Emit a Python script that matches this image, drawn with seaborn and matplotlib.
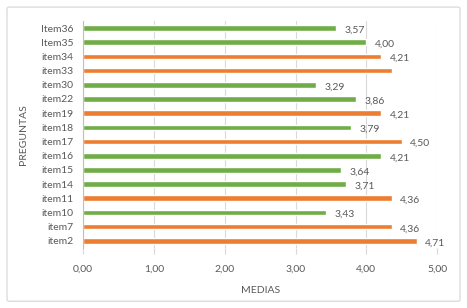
import matplotlib
matplotlib.use("Agg")
import matplotlib.pyplot as plt
import seaborn as sns
import pandas as pd
from matplotlib.patches import FancyBboxPatch

items = ["Item36", "Item35", "item34", "item33", "item30", "item22", "item19", "item18",
         "item17", "item16", "item15", "item14", "item11", "item10", "item7", "item2"]
values = [3.57, 4.00, 4.21, 4.36, 3.29, 3.86, 4.21, 3.79,
          4.50, 4.21, 3.64, 3.71, 4.36, 3.43, 4.36, 4.71]
groups = ["g", "g", "o", "o", "g", "g", "o", "g",
          "o", "g", "g", "g", "o", "g", "o", "o"]
value_labels = ["3,57", "4,00", "4,21", "", "3,29", "3,86", "4,21", "3,79",
                "4,50", "4,21", "3,64", "3,71", "4,36", "3,43", "4,36", "4,71"]
xticks = [0, 1, 2, 3, 4, 5]
xtick_labels = ["0,00", "1,00", "2,00", "3,00", "4,00", "5,00"]

df = pd.DataFrame({"item": items, "value": values, "group": groups, "label": value_labels})

sns.set_theme(style="white")
plt.rcParams["font.family"] = ["Lato", "DejaVu Sans"]

fig = plt.figure(figsize=(4.67, 3.08), dpi=100)
ax = fig.add_axes([0.178, 0.195, 0.758, 0.737])

palette = {"g": "#70AD47", "o": "#ED7D31"}
sns.barplot(data=df, x="value", y="item", hue="group", palette=palette,
            dodge=False, width=0.4, legend=False, ax=ax, saturation=1)

# labels per bar
for cont in ax.containers:
    labs = []
    for bar in cont:
        yc = bar.get_y() + bar.get_height() / 2
        idx = int(round(yc))
        labs.append(value_labels[idx] if 0 <= idx < len(value_labels) else "")
    texts = ax.bar_label(cont, labels=labs, padding=6, fontsize=7.5, color="#595959")
    for t in texts:
        t.xyann = (6, -1.5)

ax.set_xlim(0, 5)
ax.set_ylim(len(items) - 0.5, -0.5)
ax.set_xticks(xticks)
ax.set_xticklabels(xtick_labels)
ax.grid(axis="x", color="#D9D9D9", linewidth=0.8)
ax.set_axisbelow(True)
for s in ["top", "right", "bottom"]:
    ax.spines[s].set_visible(False)
ax.spines["left"].set_color("#BFBFBF")
ax.spines["left"].set_linewidth(0.8)
ax.tick_params(axis="x", length=4, width=0.8, color="#D9D9D9", labelsize=7.5,
               labelcolor="#595959", pad=8, bottom=True)
ax.tick_params(axis="y", length=0, labelsize=7.5, labelcolor="#595959", pad=7)
ax.set_xlabel("MEDIAS", fontsize=7.5, color="#595959", labelpad=9)
ax.set_ylabel("PREGUNTAS", fontsize=7.5, color="#595959", labelpad=9)

border = FancyBboxPatch((0.015, 0.022), 0.97, 0.955, boxstyle="round,pad=0,rounding_size=0.005",
                        transform=fig.transFigure, facecolor="none", edgecolor="#D9D9D9",
                        linewidth=0.9)
fig.patches.append(border)

fig.savefig("out.png", dpi=100)
